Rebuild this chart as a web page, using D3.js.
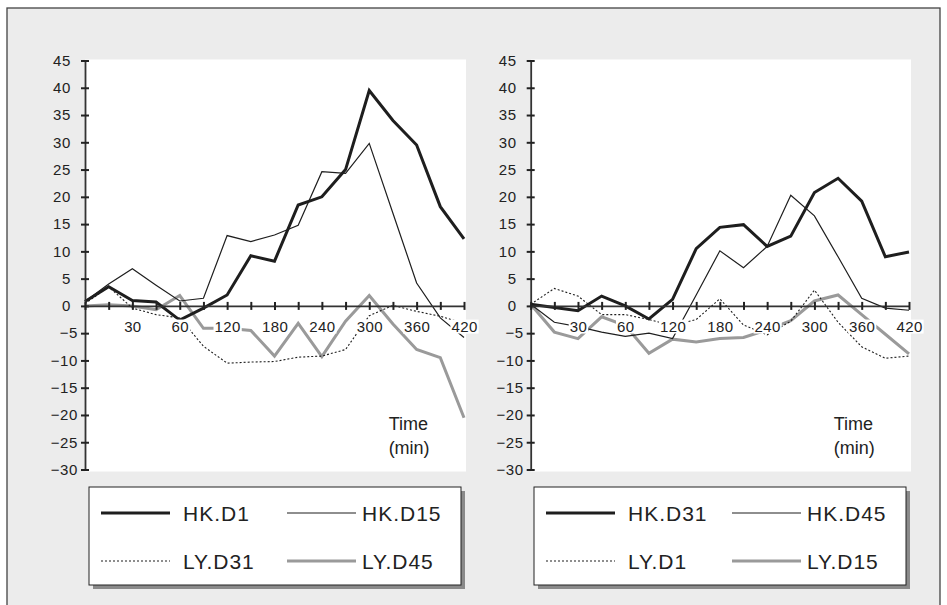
<!DOCTYPE html>
<html>
<head>
<meta charset="utf-8">
<script src="https://cdn.jsdelivr.net/npm/d3@7"></script>
<style>
  body { margin: 0; background: #fff; }
  svg text { font-family: "Liberation Sans", Arial, sans-serif; fill: #222; }
</style>
</head>
<body>
<div id="chart"></div>
<script>
// time points (min) along the category axis
const times = [0, 15, 30, 45, 60, 90, 120, 150, 180, 210, 240, 270, 300, 330, 360, 390, 420];
const xTickLabels = [30, 60, 120, 180, 240, 300, 360, 420];
const yTickValues = [-30, -25, -20, -15, -10, -5, 0, 5, 10, 15, 20, 25, 30, 35, 40, 45];

// left panel
const leftHKD1 = [0.8, 3.5, 1.0, 0.7, -2.6, -0.4, 2.0, 9.2, 8.2, 18.5, 20.0, 25.0, 39.5, 34.0, 29.5, 18.2, 12.3];
const leftHKD15 = [0.8, 4.0, 6.8, 3.8, 0.9, 1.4, 12.9, 11.8, 13.0, 14.8, 24.6, 24.3, 29.8, 17.0, 4.2, -2.2, -5.8];
const leftLYD31 = [0.4, 3.5, -0.4, -1.6, -2.2, -7.4, -10.5, -10.3, -10.2, -9.4, -9.2, -8.0, -1.8, 0.1, -1.0, -1.9, -3.2];
const leftLYD45 = [0, 0.2, 0, -0.7, 1.9, -4.1, -4.1, -4.5, -9.2, -3.2, -9.3, -2.8, 1.9, -3.3, -8.0, -9.5, -20.5];

// right panel
const rightHKD31 = [0.3, -0.3, -0.9, 1.8, 0, -2.4, 1.2, 10.5, 14.4, 14.9, 10.9, 12.8, 20.8, 23.4, 19.2, 9.0, 9.9];
const rightHKD45 = [0.3, -3.0, -3.8, -4.8, -5.6, -5.0, -6.0, 2.0, 10.1, 7.0, 10.9, 20.3, 16.5, 9.0, 1.4, -0.4, -0.8];
const rightLYD1 = [0.3, 3.2, 1.8, -1.6, -1.6, -2.5, -3.6, -2.5, 1.3, -3.5, -5.3, -2.8, 2.9, -3.0, -7.5, -9.6, -9.2];
const rightLYD15 = [0.3, -4.8, -6.0, -2.0, -3.6, -8.7, -6.1, -6.6, -6.0, -5.8, -4.4, -2.7, 0.9, 2.0, -1.6, -5.2, -8.8];

const leftNames = ["HK.D1", "HK.D15", "LY.D31", "LY.D45"];
const rightNames = ["HK.D31", "HK.D45", "LY.D1", "LY.D15"];

const width = 947;
const height = 605;

const styles = [
  { stroke: "#1e1e1e", width: 3, dash: null },
  { stroke: "#1e1e1e", width: 1.2, dash: null },
  { stroke: "#1e1e1e", width: 1.1, dash: "2,2" },
  { stroke: "#9a9a9a", width: 3, dash: null },
];

const svg = d3
  .select("#chart")
  .append("svg")
  .attr("width", width)
  .attr("height", height);

// outer frame
svg
  .append("rect")
  .attr("x", 7)
  .attr("y", 8)
  .attr("width", 933)
  .attr("height", 620)
  .attr("fill", "#ececec")
  .attr("stroke", "#444")
  .attr("stroke-width", 1.3);

const y = d3.scaleLinear().domain([-30, 45]).range([469.5, 60.5]);

function drawPanel(x0, x1, series, names, legendX) {
  const x = d3.scalePoint().domain(times).range([x0, x1]);
  const g = svg.append("g");

  // white plot area
  g.append("rect")
    .attr("x", x0)
    .attr("y", y(45) - 1)
    .attr("width", x1 - x0 + 2)
    .attr("height", y(-30) - y(45) + 3)
    .attr("fill", "#fff");

  const line = d3
    .line()
    .x((d, i) => x(times[i]))
    .y((d) => y(d));

  // grey first, then dotted, thin, thick on top
  [3, 2, 1, 0].forEach((k) => {
    g.append("path")
      .datum(series[k])
      .attr("d", line)
      .attr("fill", "none")
      .attr("stroke", styles[k].stroke)
      .attr("stroke-width", styles[k].width)
      .attr("stroke-dasharray", styles[k].dash)
      .attr("stroke-linejoin", "miter");
  });

  // y axis; positive labels leave room for a trailing bracket like the original
  const yAxis = g
    .append("g")
    .attr("transform", `translate(${x0},0)`)
    .call(d3.axisLeft(y).tickValues(yTickValues).tickSizeOuter(0).tickSizeInner(4).tickPadding(1));
  yAxis.select(".domain").attr("stroke", "#333").attr("stroke-width", 1.8);
  yAxis.selectAll(".tick line").attr("x1", -4).attr("x2", 4).attr("stroke", "#222").attr("stroke-width", 2);
  yAxis
    .selectAll("text")
    .style("font-size", "15px")
    .style("letter-spacing", "0.6px")
    .attr("x", (d) => (d < 0 ? -7 : -14));

  // x axis
  const xAxis = g
    .append("g")
    .attr("transform", `translate(0,${y(0)})`)
    .call(
      d3
        .axisBottom(x)
        .tickSizeOuter(0)
        .tickPadding(9)
        .tickFormat((d) => (xTickLabels.includes(d) ? d : ""))
    );
  xAxis.select(".domain").attr("stroke", "#333").attr("stroke-width", 1.8);
  xAxis.selectAll(".tick line").attr("y1", -4).attr("y2", 4).attr("stroke", "#222").attr("stroke-width", 2);
  xAxis.selectAll("text").style("font-size", "15px").style("letter-spacing", "0.4px");

  // white backgrounds behind the x labels (they mask the lines)
  xAxis.selectAll(".tick").each(function () {
    const t = d3.select(this).select("text");
    if (!t.text()) return;
    const b = t.node().getBBox();
    d3.select(this)
      .insert("rect", "text")
      .attr("x", b.x - 1)
      .attr("y", b.y + 2)
      .attr("width", b.width + 2)
      .attr("height", b.height - 3)
      .attr("fill", "#fff");
  });

  g.append("text")
    .attr("x", x(360) - 28)
    .attr("y", 430)
    .style("font-size", "18px")
    .text("Time");
  g.append("text")
    .attr("x", x(360) - 28)
    .attr("y", 454)
    .style("font-size", "18px")
    .text("(min)");

  // legend
  const lw = 372;
  const lh = 98;
  const ly = 487;
  g.append("rect")
    .attr("x", legendX + 4)
    .attr("y", ly + 4)
    .attr("width", lw)
    .attr("height", lh)
    .attr("fill", "#8a8a8a");
  g.append("rect")
    .attr("x", legendX)
    .attr("y", ly)
    .attr("width", lw)
    .attr("height", lh)
    .attr("fill", "#fff")
    .attr("stroke", "#222")
    .attr("stroke-width", 1);

  const cols = [12, 198];
  const rows = [26, 74];
  names.forEach((name, k) => {
    const cx = legendX + cols[k % 2];
    const cy = ly + rows[Math.floor(k / 2)];
    g.append("line")
      .attr("x1", cx)
      .attr("x2", cx + 69)
      .attr("y1", cy)
      .attr("y2", cy)
      .attr("stroke", styles[k].stroke)
      .attr("stroke-width", styles[k].width)
      .attr("stroke-dasharray", styles[k].dash);
    g.append("text")
      .attr("x", cx + (k % 2 === 0 ? 82 : 75))
      .attr("y", cy + 7.5)
      .style("font-size", "21px")
      .style("letter-spacing", "1px")
      .text(name);
  });
}

drawPanel(85, 464, [leftHKD1, leftHKD15, leftLYD31, leftLYD45], leftNames, 89);
drawPanel(530.7, 909, [rightHKD31, rightHKD45, rightLYD1, rightLYD15], rightNames, 534);
</script>
</body>
</html>
